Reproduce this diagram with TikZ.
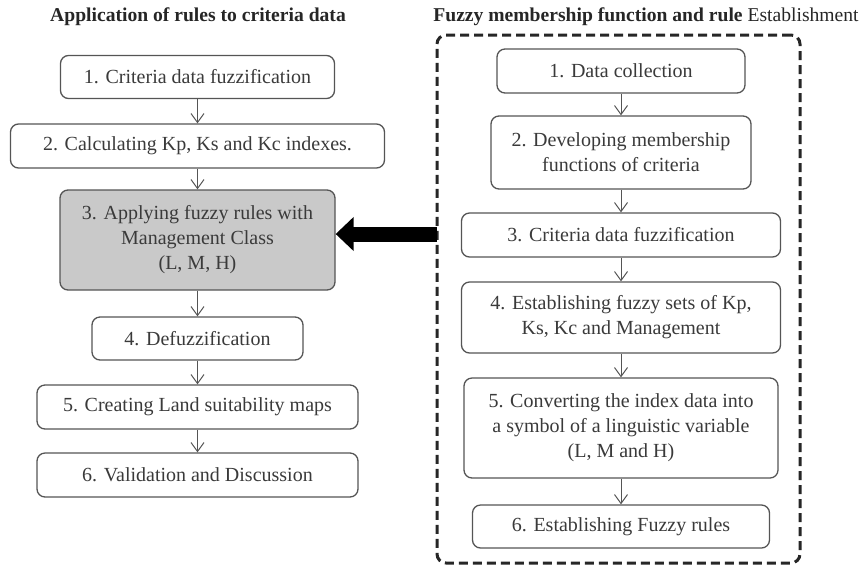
\documentclass[tikz,border=0pt]{standalone}
\usepackage{fontspec}
\setmainfont{Liberation Serif}
\usetikzlibrary{arrows.meta,calc}
\definecolor{boxline}{HTML}{555555}
\definecolor{txt}{HTML}{3A3A3A}
\definecolor{boxfill}{HTML}{C9C9C9}
\begin{document}
\begin{tikzpicture}[x=1pt,y=-1pt,
  stepbox/.style={draw=boxline, line width=1.3pt, rounded corners=8pt, fill=white,
    text=txt, align=center, inner sep=2pt,
    font=\fontsize{20}{25}\selectfont},
  titletext/.style={font=\fontsize{19.6}{22}\selectfont\bfseries, text=black!85, inner sep=0pt},
  flow/.style={draw=boxline, line width=1pt, -{Straight Barb[length=9pt,width=13pt,line width=1pt]}},
  framebox/.style={draw=black!85, line width=3pt, dash pattern=on 9pt off 5pt, rounded corners=9pt},
  bigarrow/.style={draw=black, line width=15pt, -{Triangle[length=18pt,width=33pt]}}
]
\useasboundingbox (0,0) rectangle (864,566);

% titles
\node[titletext] (tl) at (198,17) {Application of rules to criteria data};
\node[titletext] (tr) at (646,17) {Fuzzy membership function and rule \textmd{Establishment}};

% left column
\node[stepbox, minimum width=274pt, minimum height=43pt] (L1) at (197.5,77) {1. Criteria data fuzzification};
\node[stepbox, minimum width=374pt, minimum height=44pt] (L2) at (197.5,146) {2. Calculating Kp, Ks and Kc indexes.};
\node[stepbox, fill=boxfill, minimum width=275pt, minimum height=100pt] (L3) at (197.5,240) {3. Applying fuzzy rules with\\Management Class\\(L, M, H)};
\node[stepbox, minimum width=211pt, minimum height=43pt] (L4) at (197.5,338.5) {4. Defuzzification};
\node[stepbox, minimum width=321pt, minimum height=44pt] (L5) at (197.5,407) {5. Creating Land suitability maps};
\node[stepbox, minimum width=321pt, minimum height=44pt] (L6) at (197.5,475) {6. Validation and Discussion};

\draw[flow] (L1.south) -- (L2.north);
\draw[flow] (L2.south) -- (L3.north);
\draw[flow] (L3.south) -- (L4.north);
\draw[flow] (L4.south) -- (L5.north);
\draw[flow] (L5.south) -- (L6.north);

% right frame
\node[framebox, minimum width=363pt, minimum height=528pt, inner sep=0pt] (frame) at (618.5,299) {};

% right column
\node[stepbox, minimum width=248pt, minimum height=44pt] (R1) at (621,71) {1. Data collection};
\node[stepbox, minimum width=260pt, minimum height=73pt] (R2) at (621,152.5) {2. Developing membership\\functions of criteria};
\node[stepbox, minimum width=319pt, minimum height=44pt] (R3) at (621,235) {3. Criteria data fuzzification};
\node[stepbox, minimum width=319pt, minimum height=71pt] (R4) at (621,317.5) {4. Establishing fuzzy sets of Kp,\\Ks, Kc and Management};
\node[stepbox, minimum width=314pt, minimum height=100pt] (R5) at (621,428) {5. Converting the index data into\\a symbol of a linguistic variable\\(L, M and H)};
\node[stepbox, minimum width=297pt, minimum height=43pt] (R6) at (621,526.5) {6. Establishing Fuzzy rules};

\draw[flow] (R1.south) -- (R2.north);
\draw[flow] (R2.south) -- (R3.north);
\draw[flow] (R3.south) -- (R4.north);
\draw[flow] (R4.south) -- (R5.north);
\draw[flow] (R5.south) -- (R6.north);

% big arrow
\coordinate (src) at (437,234);
\draw[bigarrow] (src) -- (src -| L3.east);
\end{tikzpicture}
\end{document}
